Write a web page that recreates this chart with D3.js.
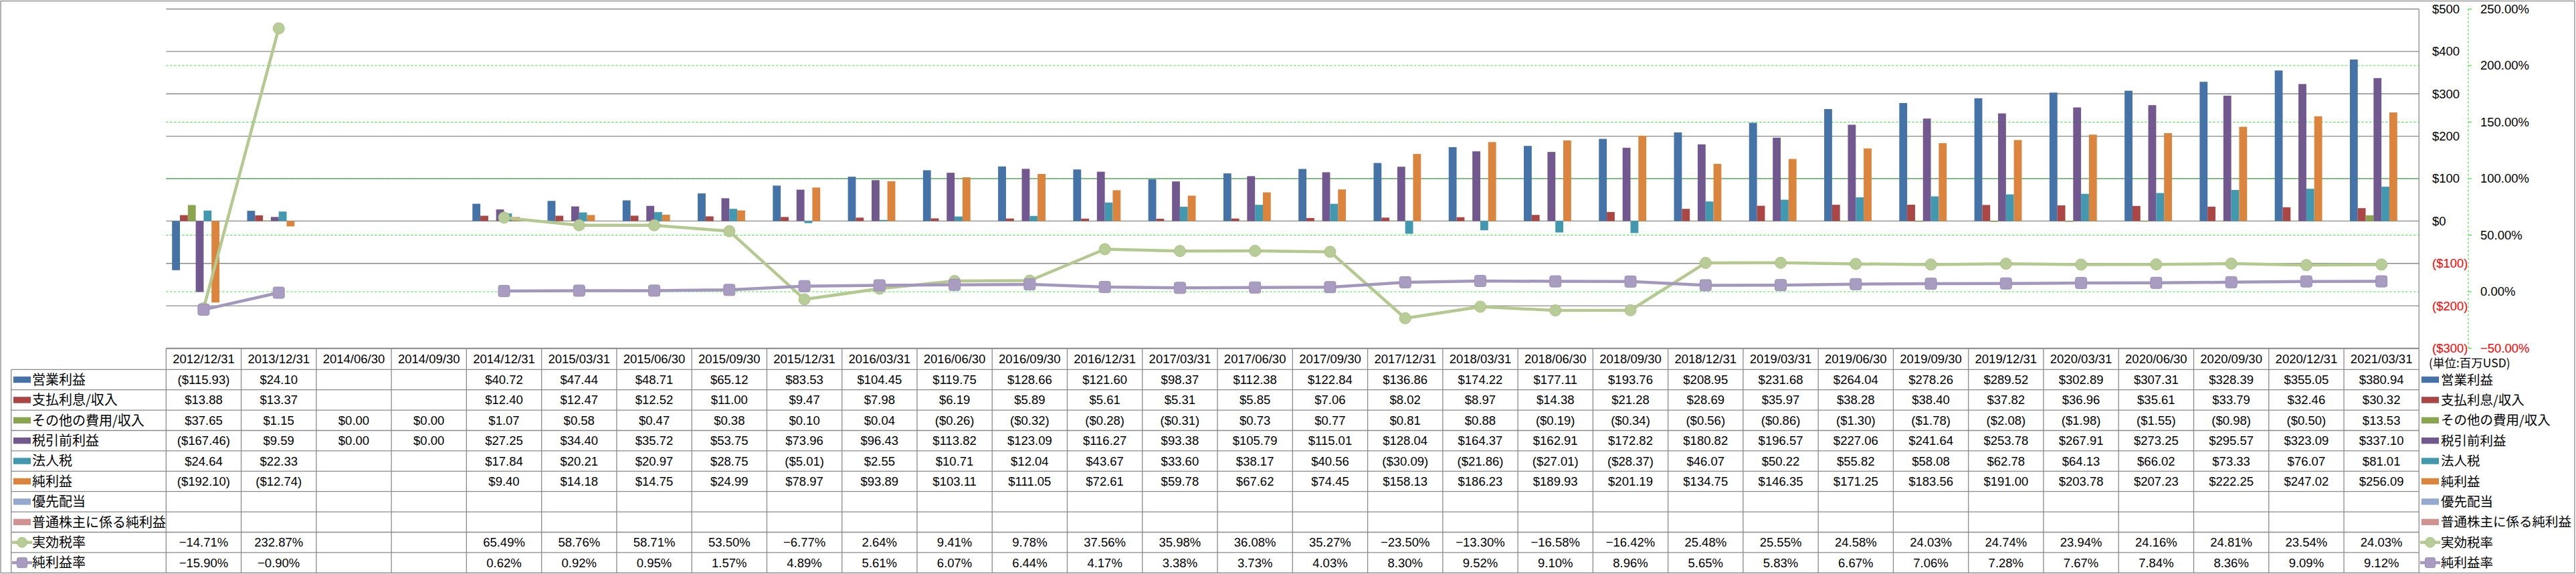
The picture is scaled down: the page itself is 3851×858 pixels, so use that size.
<!DOCTYPE html>
<html>
<head>
<meta charset="utf-8">
<script src="https://cdn.jsdelivr.net/npm/d3@7"></script>
<style>
  html, body { margin: 0; padding: 0; background: #fff; }
  svg { display: block; }
  .num { font-family: "Liberation Sans", Arial, sans-serif; font-size: 18.5px; fill: #000; }
  .jp { font-family: "Noto Sans CJK JP", "Noto Sans CJK SC", sans-serif; fill: #000; }
</style>
</head>
<body>
<svg id="chart" width="3851" height="858"></svg>
<script>
// ---------------- DATA ----------------
const dates = ["2012/12/31","2013/12/31","2014/06/30","2014/09/30","2014/12/31","2015/03/31","2015/06/30","2015/09/30","2015/12/31","2016/03/31","2016/06/30","2016/09/30","2016/12/31","2017/03/31","2017/06/30","2017/09/30","2017/12/31","2018/03/31","2018/06/30","2018/09/30","2018/12/31","2019/03/31","2019/06/30","2019/09/30","2019/12/31","2020/03/31","2020/06/30","2020/09/30","2020/12/31","2021/03/31"];

const operatingIncome = [-115.93,24.10,null,null,40.72,47.44,48.71,65.12,83.53,104.45,119.75,128.66,121.60,98.37,112.38,122.84,136.86,174.22,177.11,193.76,208.95,231.68,264.04,278.26,289.52,302.89,307.31,328.39,355.05,380.94];
const interestExpense = [13.88,13.37,null,null,12.40,12.47,12.52,11.00,9.47,7.98,6.19,5.89,5.61,5.31,5.85,7.06,8.02,8.97,14.38,21.28,28.69,35.97,38.28,38.40,37.82,36.96,35.61,33.79,32.46,30.32];
const otherExpense = [37.65,1.15,0,0,1.07,0.58,0.47,0.38,0.10,0.04,-0.26,-0.32,-0.28,-0.31,0.73,0.77,0.81,0.88,-0.19,-0.34,-0.56,-0.86,-1.30,-1.78,-2.08,-1.98,-1.55,-0.98,-0.50,13.53];
const pretaxIncome = [-167.46,9.59,0,0,27.25,34.40,35.72,53.75,73.96,96.43,113.82,123.09,116.27,93.38,105.79,115.01,128.04,164.37,162.91,172.82,180.82,196.57,227.06,241.64,253.78,267.91,273.25,295.57,323.09,337.10];
const incomeTax = [24.64,22.33,null,null,17.84,20.21,20.97,28.75,-5.01,2.55,10.71,12.04,43.67,33.60,38.17,40.56,-30.09,-21.86,-27.01,-28.37,46.07,50.22,55.82,58.08,62.78,64.13,66.02,73.33,76.07,81.01];
const netIncome = [-192.10,-12.74,null,null,9.40,14.18,14.75,24.99,78.97,93.89,103.11,111.05,72.61,59.78,67.62,74.45,158.13,186.23,189.93,201.19,134.75,146.35,171.25,183.56,191.00,203.78,207.23,222.25,247.02,256.09];
const preferredDividends = dates.map(() => null);
const netIncomeCommon = dates.map(() => null);
const effectiveTaxRate = [-14.71,232.87,null,null,65.49,58.76,58.71,53.50,-6.77,2.64,9.41,9.78,37.56,35.98,36.08,35.27,-23.50,-13.30,-16.58,-16.42,25.48,25.55,24.58,24.03,24.74,23.94,24.16,24.81,23.54,24.03];
const netMargin = [-15.90,-0.90,null,null,0.62,0.92,0.95,1.57,4.89,5.61,6.07,6.44,4.17,3.38,3.73,4.03,8.30,9.52,9.10,8.96,5.65,5.83,6.67,7.06,7.28,7.67,7.84,8.36,9.09,9.12];

const dollarTicks = [-300,-200,-100,0,100,200,300,400,500];
const percentTicks = [-50,0,50,100,150,200,250];
const unitLabel = "(単位:百万USD)";

const barSeries = [
  { name: "営業利益", values: operatingIncome, color: "#4572A7" },
  { name: "支払利息/収入", values: interestExpense, color: "#AA4643" },
  { name: "その他の費用/収入", values: otherExpense, color: "#89A54E" },
  { name: "税引前利益", values: pretaxIncome, color: "#71588F" },
  { name: "法人税", values: incomeTax, color: "#4198AF" },
  { name: "純利益", values: netIncome, color: "#DB843D" },
  { name: "優先配当", values: preferredDividends, color: "#93A9CF" },
  { name: "普通株主に係る純利益", values: netIncomeCommon, color: "#D19392" }
];
const lineSeries = [
  { name: "実効税率", values: effectiveTaxRate, color: "#b3c990", fill: "#b8cc97", stroke: "#abc186", marker: "circle" },
  { name: "純利益率", values: netMargin, color: "#a497bd", fill: "#a99cc1", stroke: "#9d8fb7", marker: "square" }
];

// ---------------- LAYOUT ----------------
const svg = d3.select("#chart");
const W = 3851, H = 858;
const plotLeft = 248.3, plotRight = 3616.3, plotTop = 13.5, plotBottom = 520.5;
const tableTop = 521.2, headerBottom = 552.3, rowH = 30.4, labelLeft = 16.7;
const nRows = barSeries.length + lineSeries.length;
const tableBottom = headerBottom + rowH * nRows;

svg.append("rect").attr("x", 0).attr("y", 0).attr("width", W).attr("height", H).attr("fill", "#fff");
svg.append("rect").attr("x", 1).attr("y", 1.5).attr("width", 3848).attr("height", 855)
  .attr("fill", "none").attr("stroke", "#8a8a8a").attr("stroke-width", 1.3);

const x = d3.scaleBand().domain(dates).range([plotLeft, plotRight]).padding(0);
const bw = x.bandwidth();
const xInner = d3.scaleBand().domain(barSeries.map(s => s.name)).range([0, bw]).paddingInner(0).paddingOuter(0.754);
const yL = d3.scaleLinear().domain([-300, 500]).range([plotBottom, plotTop]);
const yR = d3.scaleLinear().domain([-50, 250]).range([plotBottom, plotTop]);

// gray gridlines
svg.append("g").selectAll("line").data(dollarTicks).join("line")
  .attr("x1", plotLeft).attr("x2", plotRight)
  .attr("y1", d => yL(d)).attr("y2", d => yL(d))
  .attr("stroke", "#8a8a8a").attr("stroke-width", 1.3);
// green dashed percent gridlines
svg.append("g").selectAll("line").data(percentTicks.filter(d => d > -50 && d < 250)).join("line")
  .attr("x1", plotLeft).attr("x2", plotRight)
  .attr("y1", d => yR(d)).attr("y2", d => yR(d))
  .attr("stroke", "#22ee22").attr("stroke-width", 1.1).attr("stroke-dasharray", "3,3");

// right $ axis line
svg.append("line").attr("x1", plotRight).attr("x2", plotRight).attr("y1", plotTop).attr("y2", plotBottom)
  .attr("stroke", "#8a8a8a").attr("stroke-width", 1.3);

// bars
barSeries.forEach(s => {
  svg.append("g").selectAll("rect")
    .data(dates.map((d, i) => ({ d, v: s.values[i] })).filter(p => p.v != null))
    .join("rect")
    .attr("x", p => x(p.d) + xInner(s.name))
    .attr("width", xInner.bandwidth())
    .attr("y", p => yL(Math.max(0, p.v)))
    .attr("height", p => Math.abs(yL(p.v) - yL(0)))
    .attr("fill", s.color);
});

// lines
lineSeries.forEach(s => {
  const pts = dates.map((d, i) => ({ d, v: s.values[i] }));
  const line = d3.line().defined(p => p.v != null)
    .x(p => x(p.d) + bw / 2).y(p => yR(p.v));
  svg.append("path").datum(pts).attr("d", line)
    .attr("fill", "none").attr("stroke", s.color).attr("stroke-width", 4.5)
    .attr("stroke-linejoin", "round");
});
lineSeries.forEach(s => {
  const pts = dates.map((d, i) => ({ d, v: s.values[i] })).filter(p => p.v != null);
  const g = svg.append("g");
  if (s.marker === "circle") {
    g.selectAll("circle").data(pts).join("circle")
      .attr("cx", p => x(p.d) + bw / 2).attr("cy", p => yR(p.v)).attr("r", 8.5)
      .attr("fill", s.fill).attr("stroke", s.stroke).attr("stroke-width", 1);
  } else {
    g.selectAll("rect").data(pts).join("rect")
      .attr("x", p => x(p.d) + bw / 2 - 8.5).attr("y", p => yR(p.v) - 8.5)
      .attr("width", 17).attr("height", 17).attr("rx", 3)
      .attr("fill", s.fill).attr("stroke", s.stroke).attr("stroke-width", 1);
  }
});

// right $ axis labels
const fmt2 = d3.format(",.0f");
svg.append("g").selectAll("text").data(dollarTicks).join("text")
  .attr("class", "num")
  .attr("x", 3636).attr("y", d => yL(d)).attr("dy", "0.35em")
  .style("fill", d => d < 0 ? "#ff0000" : "#000")
  .text(d => d < 0 ? "($" + fmt2(-d) + ")" : "$" + fmt2(d));

// right % axis
const axX = 3690;
svg.append("line").attr("x1", axX).attr("x2", axX).attr("y1", plotTop).attr("y2", plotBottom)
  .attr("stroke", "#22ee22").attr("stroke-width", 1.1).attr("stroke-dasharray", "3,3");
svg.append("g").selectAll("line").data(percentTicks).join("line")
  .attr("x1", axX).attr("x2", axX + 5).attr("y1", d => yR(d)).attr("y2", d => yR(d))
  .attr("stroke", "#22ee22").attr("stroke-width", 1.1);
svg.append("g").selectAll("text").data(percentTicks).join("text")
  .attr("class", "num")
  .attr("x", 3708).attr("y", d => yR(d)).attr("dy", "0.35em")
  .style("fill", d => d < 0 ? "#ff0000" : "#000")
  .text(d => d3.format(".2f")(d) + "%");

// ---------------- DATA TABLE ----------------
const tg = svg.append("g");
const gridColor = "#8a8a8a";
tg.append("line").attr("x1", plotLeft).attr("x2", plotRight).attr("y1", tableTop).attr("y2", tableTop)
  .attr("stroke", gridColor).attr("stroke-width", 1.3);
d3.range(nRows + 1).forEach(i => {
  const yy = headerBottom + i * rowH;
  tg.append("line").attr("x1", labelLeft).attr("x2", plotRight).attr("y1", yy).attr("y2", yy)
    .attr("stroke", gridColor).attr("stroke-width", 1.3);
});
dates.concat(["__end"]).forEach((d, i) => {
  const xx = i < dates.length ? x(d) : plotRight;
  tg.append("line").attr("x1", xx).attr("x2", xx).attr("y1", tableTop).attr("y2", tableBottom)
    .attr("stroke", gridColor).attr("stroke-width", 1.3);
});
tg.append("line").attr("x1", labelLeft).attr("x2", labelLeft).attr("y1", headerBottom).attr("y2", tableBottom)
  .attr("stroke", gridColor).attr("stroke-width", 1.3);

tg.selectAll("text.hdr").data(dates).join("text")
  .attr("class", "num hdr")
  .attr("x", d => x(d) + bw / 2).attr("y", (tableTop + headerBottom) / 2).attr("dy", "0.35em")
  .attr("text-anchor", "middle").text(d => d);

const fmtMoney = v => v == null ? "" : (v < 0 ? "($" + d3.format(",.2f")(-v) + ")" : "$" + d3.format(",.2f")(v));
const fmtPct = v => v == null ? "" : d3.format(".2f")(v) + "%";

const rows = barSeries.map(s => ({ ...s, type: "bar", fmt: fmtMoney }))
  .concat(lineSeries.map(s => ({ ...s, type: "line", fmt: fmtPct })));

function drawKey(g, s, kx, cy) {
  if (s.type === "bar") {
    g.append("rect").attr("x", kx).attr("y", cy - 4.7).attr("width", 26).attr("height", 9.4).attr("fill", s.color);
  } else {
    g.append("line").attr("x1", kx - 2).attr("x2", kx + 28).attr("y1", cy).attr("y2", cy)
      .attr("stroke", s.color).attr("stroke-width", 4.5);
    if (s.marker === "circle") {
      g.append("circle").attr("cx", kx + 13).attr("cy", cy).attr("r", 7.5).attr("fill", s.fill).attr("stroke", s.stroke);
    } else {
      g.append("rect").attr("x", kx + 5.5).attr("y", cy - 7.5).attr("width", 15).attr("height", 15).attr("rx", 2.5)
        .attr("fill", s.fill).attr("stroke", s.stroke);
    }
  }
}

rows.forEach((s, r) => {
  const cy = headerBottom + rowH * (r + 0.5);
  drawKey(tg, s, 20, cy);
  tg.append("text").attr("class", "jp").style("font-size", "20px")
    .attr("x", 48).attr("y", cy).attr("dy", "0.36em").text(s.name);
  tg.append("g").selectAll("text").data(dates.map((d, i) => ({ d, v: s.values[i] })))
    .join("text").attr("class", "num")
    .attr("x", p => x(p.d) + bw / 2).attr("y", cy).attr("dy", "0.35em")
    .attr("text-anchor", "middle").text(p => s.fmt(p.v));
  drawKey(svg, s, 3620, cy);
  svg.append("text").attr("class", "jp").style("font-size", "19.5px")
    .attr("x", 3649).attr("y", cy).attr("dy", "0.36em").text(s.name);
});

svg.append("text").attr("class", "jp").style("font-size", "17.5px")
  .attr("x", 3631).attr("y", 543).attr("dy", "0.36em").text(unitLabel);
</script>
</body>
</html>
